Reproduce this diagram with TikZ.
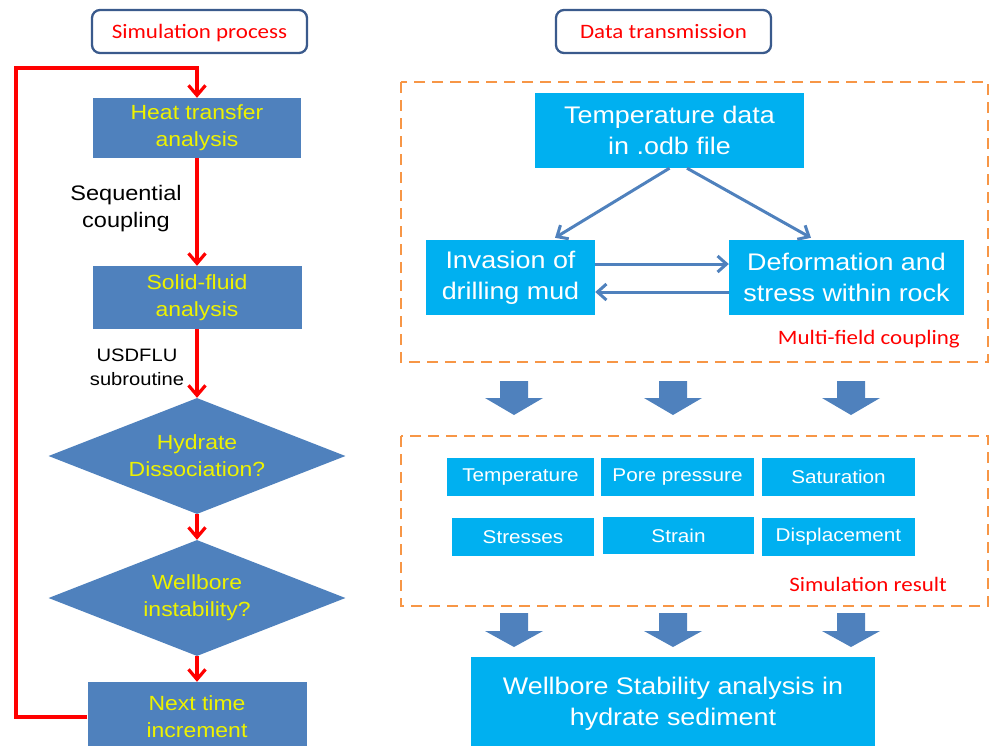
\documentclass[tikz,border=0pt]{standalone}
\usepackage{fontspec}
\setmainfont{Liberation Sans}[FakeStretch=1.12]
\newfontfamily\calib{Carlito}[FakeStretch=1.12]
\usetikzlibrary{shapes.geometric,arrows.meta}
\definecolor{flowblue}{HTML}{4F81BD}
\definecolor{skyfill}{HTML}{00B0F0}
\definecolor{hdrline}{HTML}{3A5A8C}
\definecolor{dashorange}{HTML}{F79646}
\definecolor{boxyellow}{HTML}{EEF200}
\definecolor{loopred}{HTML}{FF0000}

\begin{document}
\begin{tikzpicture}[x=1pt,y=-1pt,
  header/.style={draw=hdrline, line width=2.3pt, rounded corners=8pt, fill=white,
    minimum width=215pt, minimum height=43pt, inner sep=0pt,
    text height=18pt, text depth=4pt,
    font=\calib\fontsize{20.5}{24}\selectfont, text=loopred},
  procbox/.style={rectangle, fill=flowblue, text=boxyellow, inner sep=0pt, align=center,
    font=\fontsize{20.5}{27}\selectfont},
  decision/.style={diamond, aspect=2.56, fill=flowblue, text=boxyellow, inner sep=0pt,
    align=center, font=\fontsize{20.5}{27}\selectfont,
    minimum width=297pt, minimum height=116pt},
  databox/.style={rectangle, fill=skyfill, text=white, inner sep=0pt, align=center,
    font=\fontsize{24}{31}\selectfont},
  resbox/.style={rectangle, fill=skyfill, text=white, inner sep=0pt,
    minimum height=38pt, font=\fontsize{18.5}{22}\selectfont},
  flowarrow/.style={draw=loopred, line width=3.2pt, -{Straight Barb[length=10pt,width=17pt]}},
  linkarrow/.style={draw=flowblue, line width=3pt, -{Straight Barb[length=9pt,width=16pt]}},
  groupframe/.style={draw=dashorange, line width=2.8pt, dash pattern=on 11pt off 7pt},
  grouplabel/.style={text=loopred, font=\calib\fontsize{20.5}{24}\selectfont,
    inner sep=0pt, anchor=east},
  sidenote/.style={align=center, inner sep=0pt},
  blockarrow/.style={fill=flowblue}
]
\useasboundingbox (0,0) rectangle (990,745);

% ---- headers ----
\node[header] (simhdr)  at (199.5,31.5) {Simulation process};
\node[header] (datahdr) at (663.5,31.5) {Data transmission};

% ---- simulation loop (left) ----
\node[procbox, minimum width=208pt, minimum height=60pt] (heat)  at (197,128)   {Heat transfer\\analysis};
\node[procbox, minimum width=209pt, minimum height=63pt] (solid) at (197,297.5) {Solid-fluid\\analysis};
\node[decision] (hyd)   at (197,456) {Hydrate\\Dissociation?};
\node[decision] (wellb) at (197,598) {Wellbore\\instability?};
\node[procbox, minimum width=219pt, minimum height=70pt] (next)  at (197,717) {Next time\\increment};

\node[sidenote, font=\fontsize{21}{27}\selectfont] (seqlbl) at (126,209) {Sequential\\coupling};
\node[sidenote, font=\fontsize{18}{24}\selectfont] (usdlbl) at (137,367) {USDFLU\\subroutine};

\draw[flowarrow] (heat.south)  -- (solid.north);
\draw[flowarrow] (solid.south) -- (hyd.north);
\draw[flowarrow] (hyd.south)   -- (wellb.north);
\draw[flowarrow] (wellb.south) -- (next.north);
\coordinate (loopcorner) at (16,68);
\draw[flowarrow] (next.west) -| (loopcorner) -| (heat.north);

% ---- multi-field coupling group ----
\draw[groupframe] (401,82) rectangle (988,362);
\node[databox, minimum width=269pt, minimum height=75pt] (temp) at (669.5,130.5) {Temperature data\\in .odb file};
\node[databox, minimum width=169pt, minimum height=75pt] (inv)  at (510.5,277.5) {Invasion of\\drilling mud};
\node[databox, minimum width=235pt, minimum height=75pt] (def)  at (846.5,277.5) {Deformation and\\stress within rock};
\node[grouplabel] (mflbl) at (960,339) {Multi-field coupling};

\draw[linkarrow] (temp.south) -- ([xshift=44.5pt,yshift=2pt]inv.north);
\draw[linkarrow] ([xshift=17.5pt]temp.south) -- ([xshift=-35.5pt,yshift=2pt]def.north);
\draw[linkarrow] ([yshift=13.5pt]inv.east) -- ([yshift=13.5pt]def.west);
\draw[linkarrow] ([yshift=-14.5pt]def.west) -- ([yshift=-14.5pt]inv.east);

% ---- block arrows into the results ----
\foreach \cx in {514,673,851} {
  \fill[blockarrow] (\cx-14,381) -- (\cx+14,381) -- (\cx+14,398) -- (\cx+29,398)
    -- (\cx,415) -- (\cx-29,398) -- (\cx-14,398) -- cycle;
}

% ---- simulation result group ----
\draw[groupframe] (401,436) rectangle (988,606);
\node[resbox, minimum width=147pt] (rtemp)  at (520.5,477) {Temperature};
\node[resbox, minimum width=153pt] (rpore)  at (677.5,477) {Pore pressure};
\node[resbox, minimum width=153pt] (rsat)   at (838.5,477) {Saturation};
\node[resbox, minimum width=142pt] (rstres) at (523,537)   {Stresses};
\node[resbox, minimum width=151pt, minimum height=37pt] (rstrain) at (678.5,535.5) {Strain};
\node[resbox, minimum width=153pt] (rdisp)  at (838.5,537) {Displacement};
\node[grouplabel] (srlbl) at (947,584) {Simulation result};

% ---- block arrows into the final analysis ----
\foreach \cx in {514,673,851} {
  \fill[blockarrow] (\cx-14,613) -- (\cx+14,613) -- (\cx+14,631) -- (\cx+29,631)
    -- (\cx,647) -- (\cx-29,631) -- (\cx-14,631) -- cycle;
}

\node[databox, minimum width=404pt, minimum height=94pt] (final) at (673,704)
  {Wellbore Stability analysis in\\hydrate sediment};
\end{tikzpicture}
\end{document}
